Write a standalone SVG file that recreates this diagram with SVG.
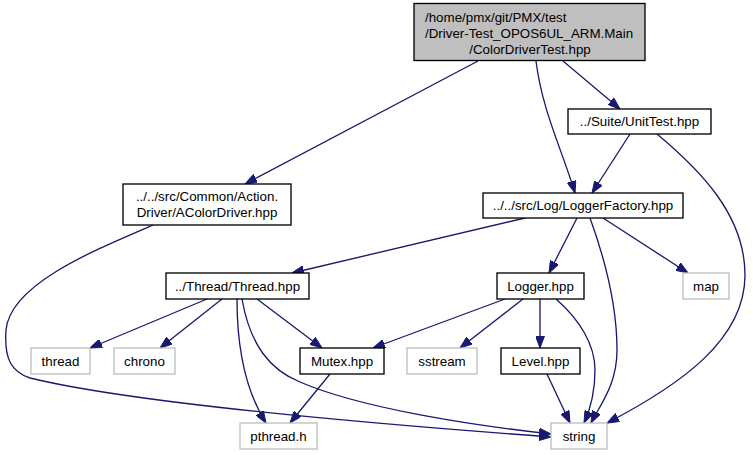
<svg xmlns="http://www.w3.org/2000/svg" width="753" height="455" viewBox="0 0 753 455">
<defs>
<style>
.n rect{fill:#ffffff;stroke:#000000;stroke-width:1.33}
.n.root rect{fill:#bfbfbf}
.n.sys rect{stroke:#bfbfbf}
text{font-family:"Liberation Sans",Arial,Helvetica,sans-serif;font-size:13.33px;fill:#000000;text-anchor:middle}
.e path{fill:none;stroke:#191970;stroke-width:1.33;marker-end:url(#ah)}
</style>
<marker id="ah" markerUnits="userSpaceOnUse" viewBox="0 0 12 9" refX="12" refY="4.5" markerWidth="12" markerHeight="9" orient="auto">
<path d="M0,0 L12,4.5 L0,9 Z" fill="#191970" stroke="#191970" stroke-width="1"/>
</marker>
</defs>
<rect width="753" height="455" fill="#ffffff"/>
<g id="connectors" class="e">
<path d="M478,61 L245,184"/>
<path d="M536,61 C542,110 562,150 575,193"/>
<path d="M563,61 L620,109"/>
<path d="M630,134 L592,193"/>
<path d="M657,134 C700,170 745,215 745,275 C745,340 680,385 607,423"/>
<path d="M525,218 L292,273"/>
<path d="M577,218 L549,273"/>
<path d="M590,218 C606,262 617,310 617,350 C617,385 600,405 591,423"/>
<path d="M603,218 L688,273"/>
<path d="M556,299 C580,320 595,345 595,370 C595,395 590,410 584,423"/>
<path d="M547,374 L570,423"/>
<path d="M207,299 L90,348"/>
<path d="M222,299 L160,348"/>
<path d="M257,299 L322,348"/>
<path d="M237,299 C237,345 245,390 266,423"/>
<path d="M242,299 C250,345 270,370 300,382 C360,408 470,425 551,434"/>
<path d="M153,225 C90,252 10,285 6,330 C4,360 12,372 30,378 C120,400 320,420 551,437"/>
<path d="M505,299 L373,348"/>
<path d="M523,299 L460,348"/>
<path d="M540,299 L540,348"/>
<path d="M330,374 L290,423"/>
</g>
<g id="node-root" class="n root">
<rect x="414" y="3.5" width="231" height="57"/>
<text x="425" y="22" style="text-anchor:start">/home/pmx/git/PMX/test</text>
<text x="425" y="38" style="text-anchor:start">/Driver-Test_OPOS6UL_ARM.Main</text>
<text x="530" y="54">/ColorDriverTest.hpp</text>
</g>
<g id="node-acolordriver" class="n">
<rect x="123" y="184" width="168" height="41"/>
<text x="207" y="201">../../src/Common/Action.</text>
<text x="207" y="217">Driver/AColorDriver.hpp</text>
</g>
<g id="node-unittest" class="n">
<rect x="568" y="109" width="143" height="25"/>
<text x="639.5" y="126">../Suite/UnitTest.hpp</text>
</g>
<g id="node-loggerfactory" class="n">
<rect x="483" y="193" width="200" height="25"/>
<text x="583" y="210">../../src/Log/LoggerFactory.hpp</text>
</g>
<g id="node-threadhpp" class="n">
<rect x="166" y="273" width="143" height="26"/>
<text x="237.5" y="290.5">../Thread/Thread.hpp</text>
</g>
<g id="node-logger" class="n">
<rect x="497" y="273" width="87" height="26"/>
<text x="540.5" y="290.5">Logger.hpp</text>
</g>
<g id="node-map" class="n sys">
<rect x="683" y="273" width="46" height="26"/>
<text x="706" y="290.5">map</text>
</g>
<g id="node-thread" class="n sys">
<rect x="31" y="348" width="59" height="26"/>
<text x="60.5" y="365.5">thread</text>
</g>
<g id="node-chrono" class="n sys">
<rect x="114" y="348" width="61" height="26"/>
<text x="144.5" y="365.5">chrono</text>
</g>
<g id="node-mutex" class="n">
<rect x="300" y="348" width="84" height="26"/>
<text x="342" y="365.5">Mutex.hpp</text>
</g>
<g id="node-sstream" class="n sys">
<rect x="407" y="348" width="70" height="26"/>
<text x="442" y="365.5">sstream</text>
</g>
<g id="node-level" class="n">
<rect x="501" y="348" width="79" height="26"/>
<text x="540.5" y="365.5">Level.hpp</text>
</g>
<g id="node-pthread" class="n sys">
<rect x="240" y="423" width="77" height="26"/>
<text x="278.5" y="440.5">pthread.h</text>
</g>
<g id="node-string" class="n sys">
<rect x="551" y="423" width="56" height="26"/>
<text x="579" y="440.5">string</text>
</g>
</svg>
